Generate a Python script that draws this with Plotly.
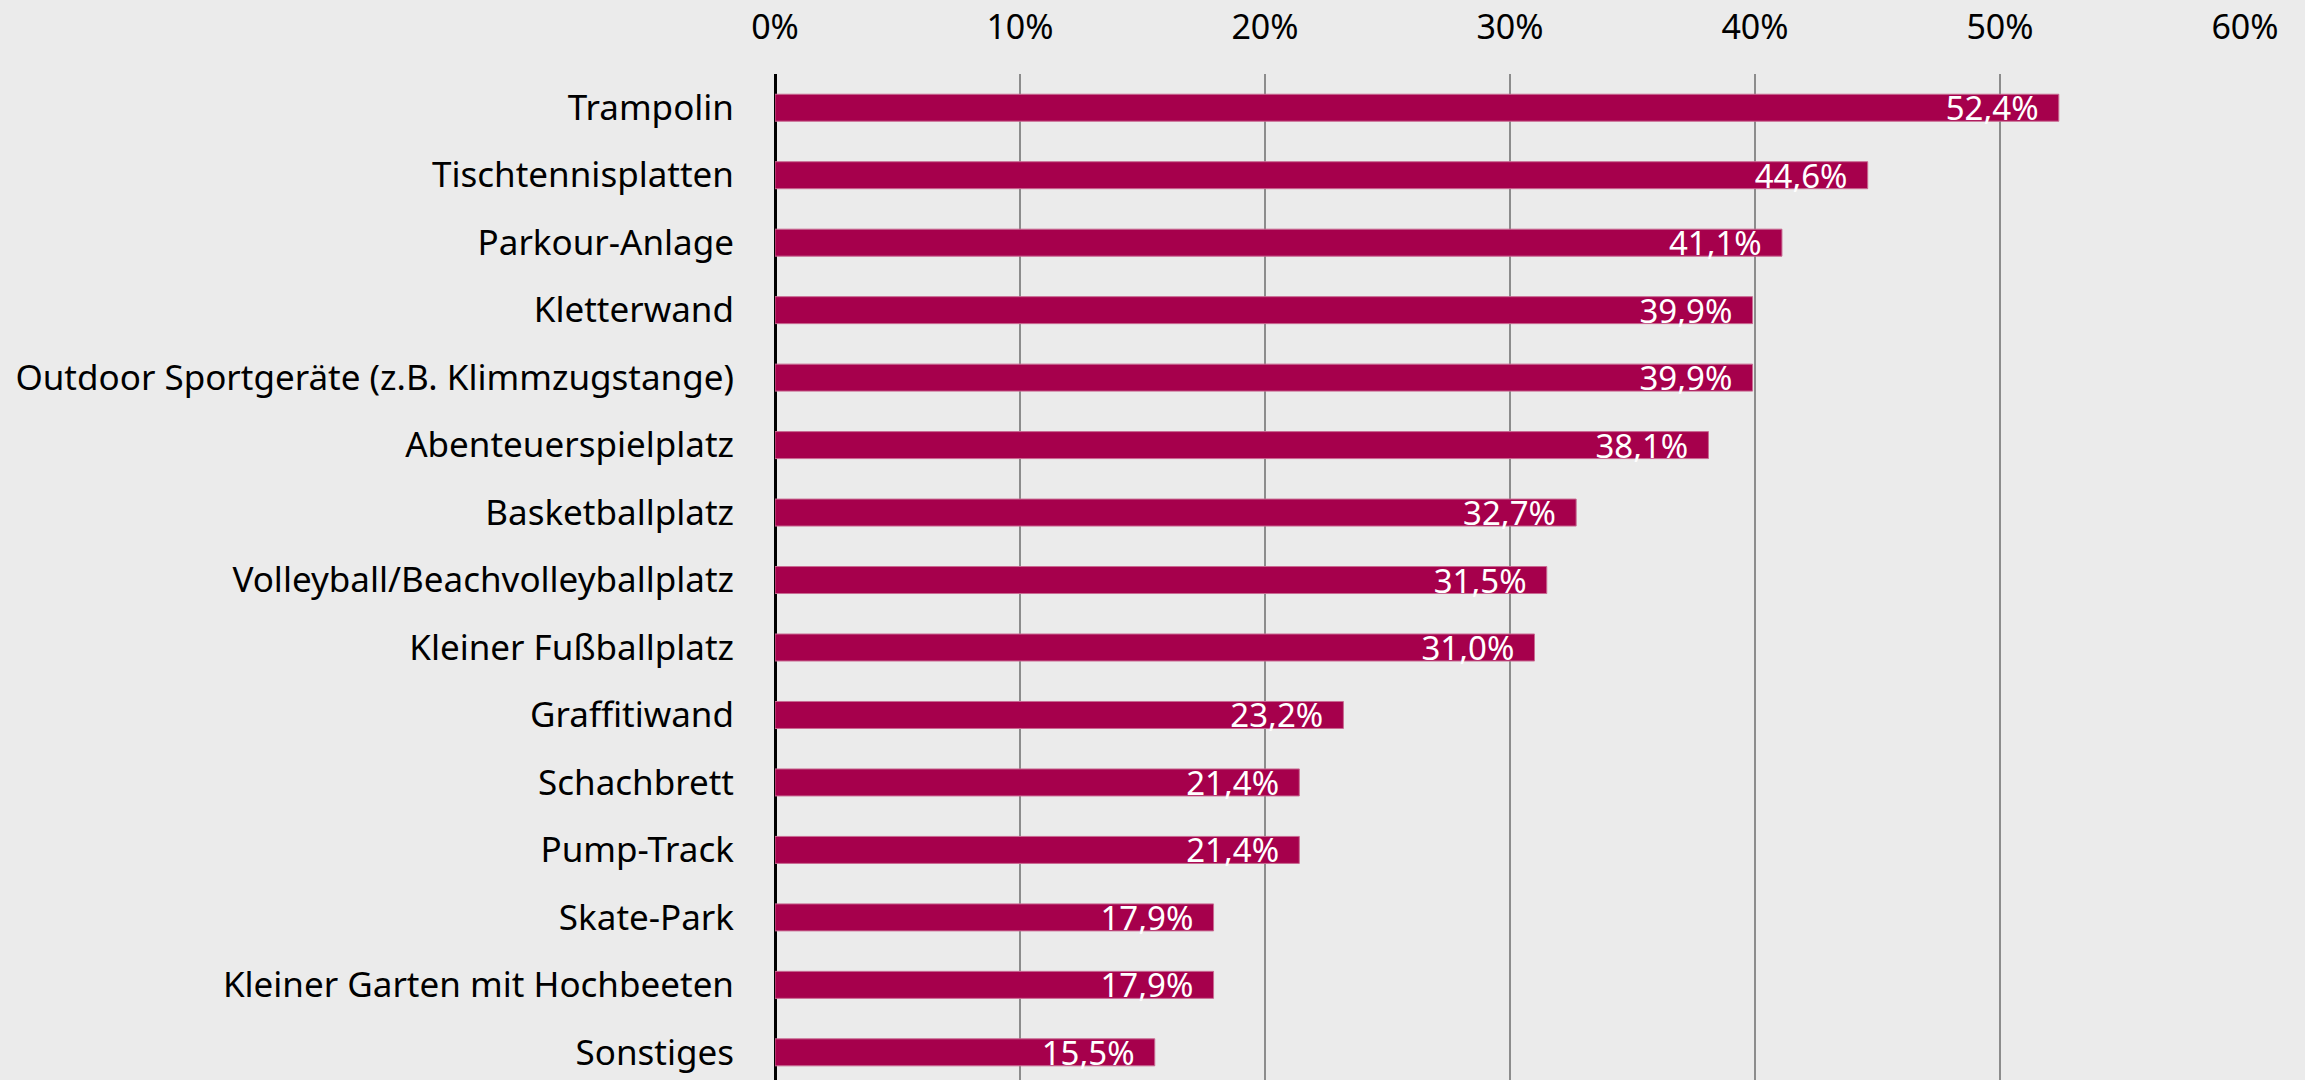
import plotly.graph_objects as go

categories = [
    "Trampolin",
    "Tischtennisplatten",
    "Parkour-Anlage",
    "Kletterwand",
    "Outdoor Sportgeräte (z.B. Klimmzugstange)",
    "Abenteuerspielplatz",
    "Basketballplatz",
    "Volleyball/Beachvolleyballplatz",
    "Kleiner Fußballplatz",
    "Graffitiwand",
    "Schachbrett",
    "Pump-Track",
    "Skate-Park",
    "Kleiner Garten mit Hochbeeten",
    "Sonstiges",
]
values = [52.4, 44.6, 41.1, 39.9, 39.9, 38.1, 32.7, 31.5, 31.0, 23.2, 21.4, 21.4, 17.9, 17.9, 15.5]
tick_vals = [0, 10, 20, 30, 40, 50, 60]
tick_text = ["0%", "10%", "20%", "30%", "40%", "50%", "60%"]

BAR = "#A6004C"
BG = "#EBEBEB"
FONT = "Noto Sans"

fig = go.Figure(
    go.Bar(
        x=values,
        y=categories,
        orientation="h",
        marker=dict(color=BAR, line=dict(color="#C86A92", width=1)),
        width=0.4,
        texttemplate="%{x:.1f}%\u00a0\u00a0",
        textposition="inside",
        insidetextanchor="end",
        textangle=0,
        constraintext="none",
        insidetextfont=dict(color="white", size=33, family=FONT),
        cliponaxis=False,
    )
)

fig.update_layout(
    width=2305,
    height=1080,
    paper_bgcolor=BG,
    plot_bgcolor=BG,
    margin=dict(l=775, r=60, t=74, b=0),
    separators=",.",
    showlegend=False,
    font=dict(family=FONT, color="black", size=34),
    xaxis=dict(
        side="top",
        range=[0, 60],
        tickvals=tick_vals,
        ticktext=tick_text,
        showgrid=True,
        gridcolor="#8C8C8C",
        gridwidth=1.5,
        zeroline=True,
        zerolinecolor="black",
        zerolinewidth=3,
        showline=False,
        ticks="",
        ticklabelstandoff=27,
        automargin=False,
        tickfont=dict(size=34, family=FONT, color="black"),
    ),
    yaxis=dict(
        range=[len(categories) - 0.59, -0.5],
        showgrid=False,
        zeroline=False,
        ticks="",
        ticklabelstandoff=40,
        automargin=False,
        tickfont=dict(size=35, family=FONT, color="black"),
    ),
)

fig.write_html(
    "out.html",
    config={"displayModeBar": False},
    post_script="document.body.style.margin='0';document.body.style.background='#EBEBEB';",
)
